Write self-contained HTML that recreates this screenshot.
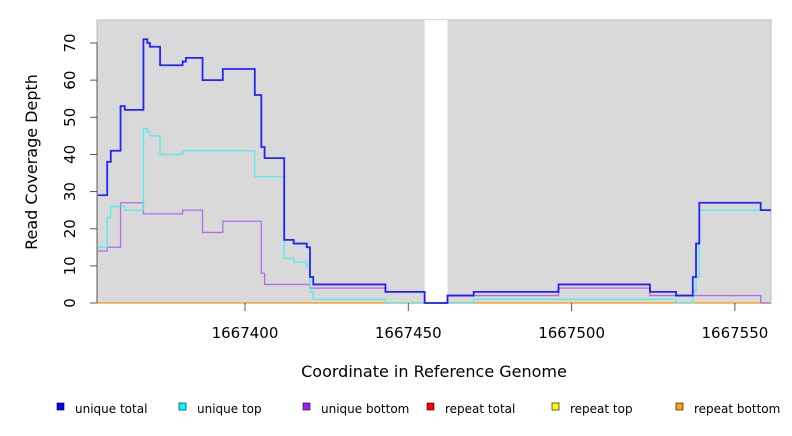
<!DOCTYPE html>
<html><head><meta charset="utf-8"><style>
body{margin:0;background:#fff;font-family:"DejaVu Sans","Liberation Sans",sans-serif;}
svg text{font-family:"DejaVu Sans","Liberation Sans",sans-serif;}
</style></head><body>
<svg id="chart" width="792" height="432" xmlns="http://www.w3.org/2000/svg">
<g id="plot"></g>
<g id="axes"></g>
<text x="37" y="162" font-size="16" text-anchor="middle" transform="rotate(-90 37 162)">Read Coverage Depth</text>
<text x="434" y="377" font-size="16" text-anchor="middle">Coordinate in Reference Genome</text>
<g id="legend"></g>
</svg>
<script>
const xTicks=[1667400,1667450,1667500,1667550];
const yTicks=[0,10,20,30,40,50,60,70];
const gap=[1667455,1667462];
const totalX=[1667355,1667357.8,1667358.9,1667361.9,1667363.2,1667368.9,1667370.1,1667370.9,1667374,1667380.9,1667381.9,1667387,1667393.2,1667403,1667405,1667406,1667412,1667414.9,1667418.9,1667419.9,1667420.9,1667443,1667455,1667462,1667470,1667496,1667524,1667532,1667537.1,1667538.1,1667539.1,1667557.9];
const totalY=[29,38,41,53,52,71,70,69,64,65,66,60,63,56,42,39,17,16,15,7,5,3,0,2,3,5,3,2,7,16,27,25];
const topX=[1667355,1667357.8,1667358.9,1667363.2,1667368.9,1667370.1,1667370.9,1667374,1667380.9,1667403,1667412,1667414.9,1667418.9,1667419.9,1667420.9,1667443,1667470,1667532,1667537.1,1667538.1,1667539.1];
const topY=[15,23,26,25,47,46,45,40,41,34,12,11,10,3,1,0,1,0,3,7,25];
const botX=[1667355,1667357.8,1667361.9,1667368.9,1667380.9,1667387,1667393.2,1667405,1667406,1667419.9,1667443,1667455,1667462,1667496,1667524,1667557.9];
const botY=[14,15,27,24,25,19,22,8,5,4,3,0,2,4,2,0];
const legendNames=["unique total","unique top","unique bottom","repeat total","repeat top","repeat bottom"];
const legendColors=["#0000ff","#00ffff","#a020f0","#ff0000","#ffff00","#ffa500"];
const yMax=70;
const L=97,R=771,T=20,B=303;
const xs=v=>245+(v-1667400)*3.266;
const ys=v=>B-v*(B-43)/yMax;
const NS="http://www.w3.org/2000/svg";
function mk(t,a,p){const e=document.createElementNS(NS,t);for(const k in a)e.setAttribute(k,a[k]);p.appendChild(e);return e;}
const plot=document.getElementById('plot'),axes=document.getElementById('axes');
const bg=mk('rect',{x:L,y:T,width:R-L,height:B-T,fill:'#d9d9d9',stroke:'#bbb'},plot);


const g=mk('rect',{x:xs(gap[0]),y:T,width:xs(gap[1])-xs(gap[0]),height:B-T,fill:'#fff'},plot);


function step(X,Y,color,w,op,name){
 let d='';
 for(let i=0;i<X.length;i++){
  const x0=Math.max(L,xs(X[i])),x1=i+1<X.length?xs(X[i+1]):R;
  d+=(i==0?'M':'L')+x0+' '+ys(Y[i])+' L'+x1+' '+ys(Y[i])+' ';
 }
 const p=mk('path',{d:d,fill:'none',stroke:color,'stroke-width':w,'stroke-opacity':op},plot);
 
 
}
const base=mk('line',{x1:L,x2:R,y1:B,y2:B,stroke:'#ff9900','stroke-width':1.2},plot);


step(botX,botY,'#b060e8',1.3,0.9,'unique-bottom-line');
step(topX,topY,'#40f0f0',1.3,0.9,'unique-top-line');
step(totalX,totalY,'#1010ff',1.8,0.9,'unique-total-line');
mk('line',{x1:L,x2:L,y1:ys(0),y2:ys(70),stroke:'#555'},axes);
yTicks.forEach(v=>{
 mk('line',{x1:L-7,x2:L,y1:ys(v),y2:ys(v),stroke:'#555'},axes);
 const t=mk('text',{x:75,y:ys(v),'font-size':15,'text-anchor':'middle',transform:`rotate(-90 75 ${ys(v)})`},axes);
 t.textContent=v;
 
 
});
xTicks.forEach(v=>{
 mk('line',{x1:xs(v),x2:xs(v),y1:B,y2:B+8,stroke:'#555'},axes);
 const t=mk('text',{x:xs(v),y:338,'font-size':15,'text-anchor':'middle'},axes);
 t.textContent=v;
 
 
});
const lg=document.getElementById('legend');
legendNames.forEach((n,i)=>{
 const x=[57,179,303,427,552,676][i];
 const r=mk('rect',{x:x,y:403,width:7,height:7,fill:legendColors[i],stroke:'#000','stroke-width':0.6},lg);
 
 
 const t=mk('text',{x:x+18,y:413,'font-size':12},lg);
 t.textContent=n;
 
 
});
</script>
</body></html>
